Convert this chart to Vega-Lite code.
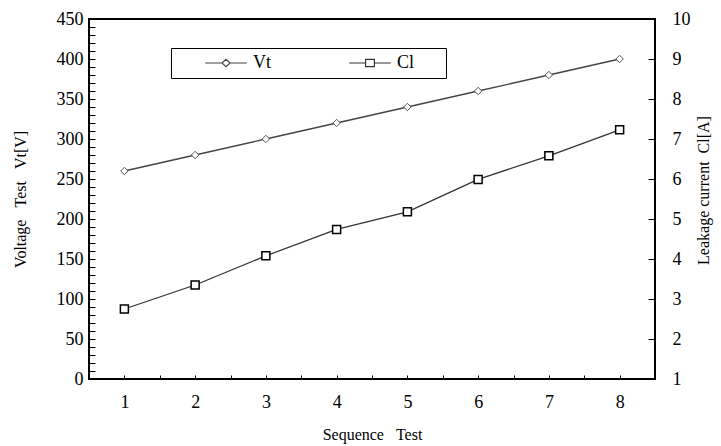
{
  "$schema": "https://vega.github.io/schema/vega-lite/v6.json",
  "width": 566,
  "height": 360,
  "autosize": "none",
  "padding": {"left": 89, "top": 19, "right": 66, "bottom": 67},
  "background": "white",
  "config": {
    "font": "Liberation Serif",
    "view": {"stroke": "black", "strokeWidth": 2},
    "axis": {
      "grid": false,
      "ticks": true,
      "domain": false,
      "zindex": 2,
      "tickColor": "black",
      "tickWidth": 1,
      "labelColor": "black",
      "titleColor": "black",
      "labelFont": "Liberation Serif",
      "titleFont": "Liberation Serif",
      "labelFontSize": 18,
      "titleFontSize": 16,
      "titleFontWeight": "normal",
      "labelOverlap": false,
      "labelFlush": false,
      "labelBound": false
    }
  },
  "data": {
    "values": [
      {"seq": 1, "series": "Vt", "value": 260},
      {"seq": 2, "series": "Vt", "value": 280},
      {"seq": 3, "series": "Vt", "value": 300},
      {"seq": 4, "series": "Vt", "value": 320},
      {"seq": 5, "series": "Vt", "value": 340},
      {"seq": 6, "series": "Vt", "value": 360},
      {"seq": 7, "series": "Vt", "value": 380},
      {"seq": 8, "series": "Vt", "value": 400},
      {"seq": 1, "series": "Cl", "value": 2.75},
      {"seq": 2, "series": "Cl", "value": 3.35},
      {"seq": 3, "series": "Cl", "value": 4.08},
      {"seq": 4, "series": "Cl", "value": 4.74},
      {"seq": 5, "series": "Cl", "value": 5.18},
      {"seq": 6, "series": "Cl", "value": 5.99},
      {"seq": 7, "series": "Cl", "value": 6.58},
      {"seq": 8, "series": "Cl", "value": 7.23}
    ]
  },
  "encoding": {
    "x": {
      "field": "seq",
      "type": "quantitative",
      "scale": {"domain": [0.5, 8.5], "nice": false, "zero": false},
      "axis": {
        "title": "Sequence\u00a0\u00a0\u00a0Test",
        "values": [0.5, 1, 1.5, 2, 2.5, 3, 3.5, 4, 4.5, 5, 5.5, 6, 6.5, 7, 7.5, 8, 8.5],
        "labelExpr": "datum.value % 1 == 0 ? '' + datum.value : ''",
        "offset": -4,
        "tickSize": 4,
        "labelPadding": 14,
        "titlePadding": 15
      }
    }
  },
  "layer": [
    {
      "transform": [{"filter": "datum.series === 'Vt'"}],
      "encoding": {
        "y": {
          "field": "value",
          "type": "quantitative",
          "scale": {"domain": [0, 450], "nice": false, "zero": false},
          "axis": {
            "orient": "left",
            "title": "Voltage\u00a0\u00a0\u00a0Test\u00a0\u00a0\u00a0Vt[V]",
            "values": [0, 10, 20, 30, 40, 50, 60, 70, 80, 90, 100, 110, 120, 130, 140, 150, 160, 170, 180, 190, 200, 210, 220, 230, 240, 250, 260, 270, 280, 290, 300, 310, 320, 330, 340, 350, 360, 370, 380, 390, 400, 410, 420, 430, 440, 450],
            "labelExpr": "datum.value % 50 == 0 ? datum.label : ''",
            "offset": -6,
            "tickSize": 6,
            "labelPadding": 6,
            "titlePadding": 28
          }
        }
      },
      "layer": [
        {
          "mark": {"type": "line", "strokeWidth": 1.3},
          "encoding": {
            "color": {
              "field": "series",
              "type": "nominal",
              "scale": {"domain": ["Vt", "Cl"], "range": ["#444444", "#333333"]},
              "legend": {
                "title": null,
                "orient": "none",
                "legendX": 82,
                "legendY": 29,
                "direction": "horizontal",
                "strokeColor": "black",
                "fillColor": "white",
                "padding": 6,
                "symbolSize": 256,
                "symbolOffset": 40,
                "labelOffset": 18,
                "columnPadding": 50,
                "labelFont": "Liberation Serif",
                "labelFontSize": 18,
                "labelColor": "black",
                "symbolStrokeWidth": 1,
                "encode": {
                  "symbols": {
                    "update": {
                      "shape": {"signal": "datum.value === 'Vt' ? 'M-2.6,0L-0.5,0M0.5,0L2.6,0M-0.5,0L0,-0.45L0.5,0L0,0.45Z' : 'M-2.6,0L-0.55,0M0.55,0L2.6,0M-0.55,-0.45L0.55,-0.45L0.55,0.45L-0.55,0.45ZM8.4,0'"},
                      "fill": {"value": "white"},
                      "stroke": {"value": "black"},
                      "strokeWidth": {"value": 1.2},
                      "opacity": {"value": 1}
                    }
                  }
                }
              }
            }
          }
        },
        {
          "mark": {"type": "point", "shape": "diamond", "filled": false, "fill": "white", "fillOpacity": 1, "stroke": "#555555", "strokeWidth": 1, "size": 55, "opacity": 1}
        }
      ]
    },
    {
      "transform": [{"filter": "datum.series === 'Cl'"}],
      "encoding": {
        "y": {
          "field": "value",
          "type": "quantitative",
          "scale": {"domain": [1, 10], "nice": false, "zero": false},
          "axis": {
            "orient": "right",
            "title": "Leakage current\u00a0\u00a0Cl[A]",
            "titleAngle": 270,
            "titleY": 171,
            "values": [1, 2, 3, 4, 5, 6, 7, 8, 9, 10],
            "offset": -7,
            "tickSize": 7,
            "labelPadding": 17,
            "titlePadding": 21
          }
        }
      },
      "layer": [
        {
          "mark": {"type": "line", "strokeWidth": 1.3},
          "encoding": {"color": {"field": "series", "type": "nominal"}}
        },
        {
          "mark": {"type": "point", "shape": "square", "filled": false, "fill": "white", "fillOpacity": 1, "stroke": "black", "strokeWidth": 1.5, "size": 64, "opacity": 1}
        }
      ]
    }
  ],
  "resolve": {"scale": {"y": "independent"}}
}
